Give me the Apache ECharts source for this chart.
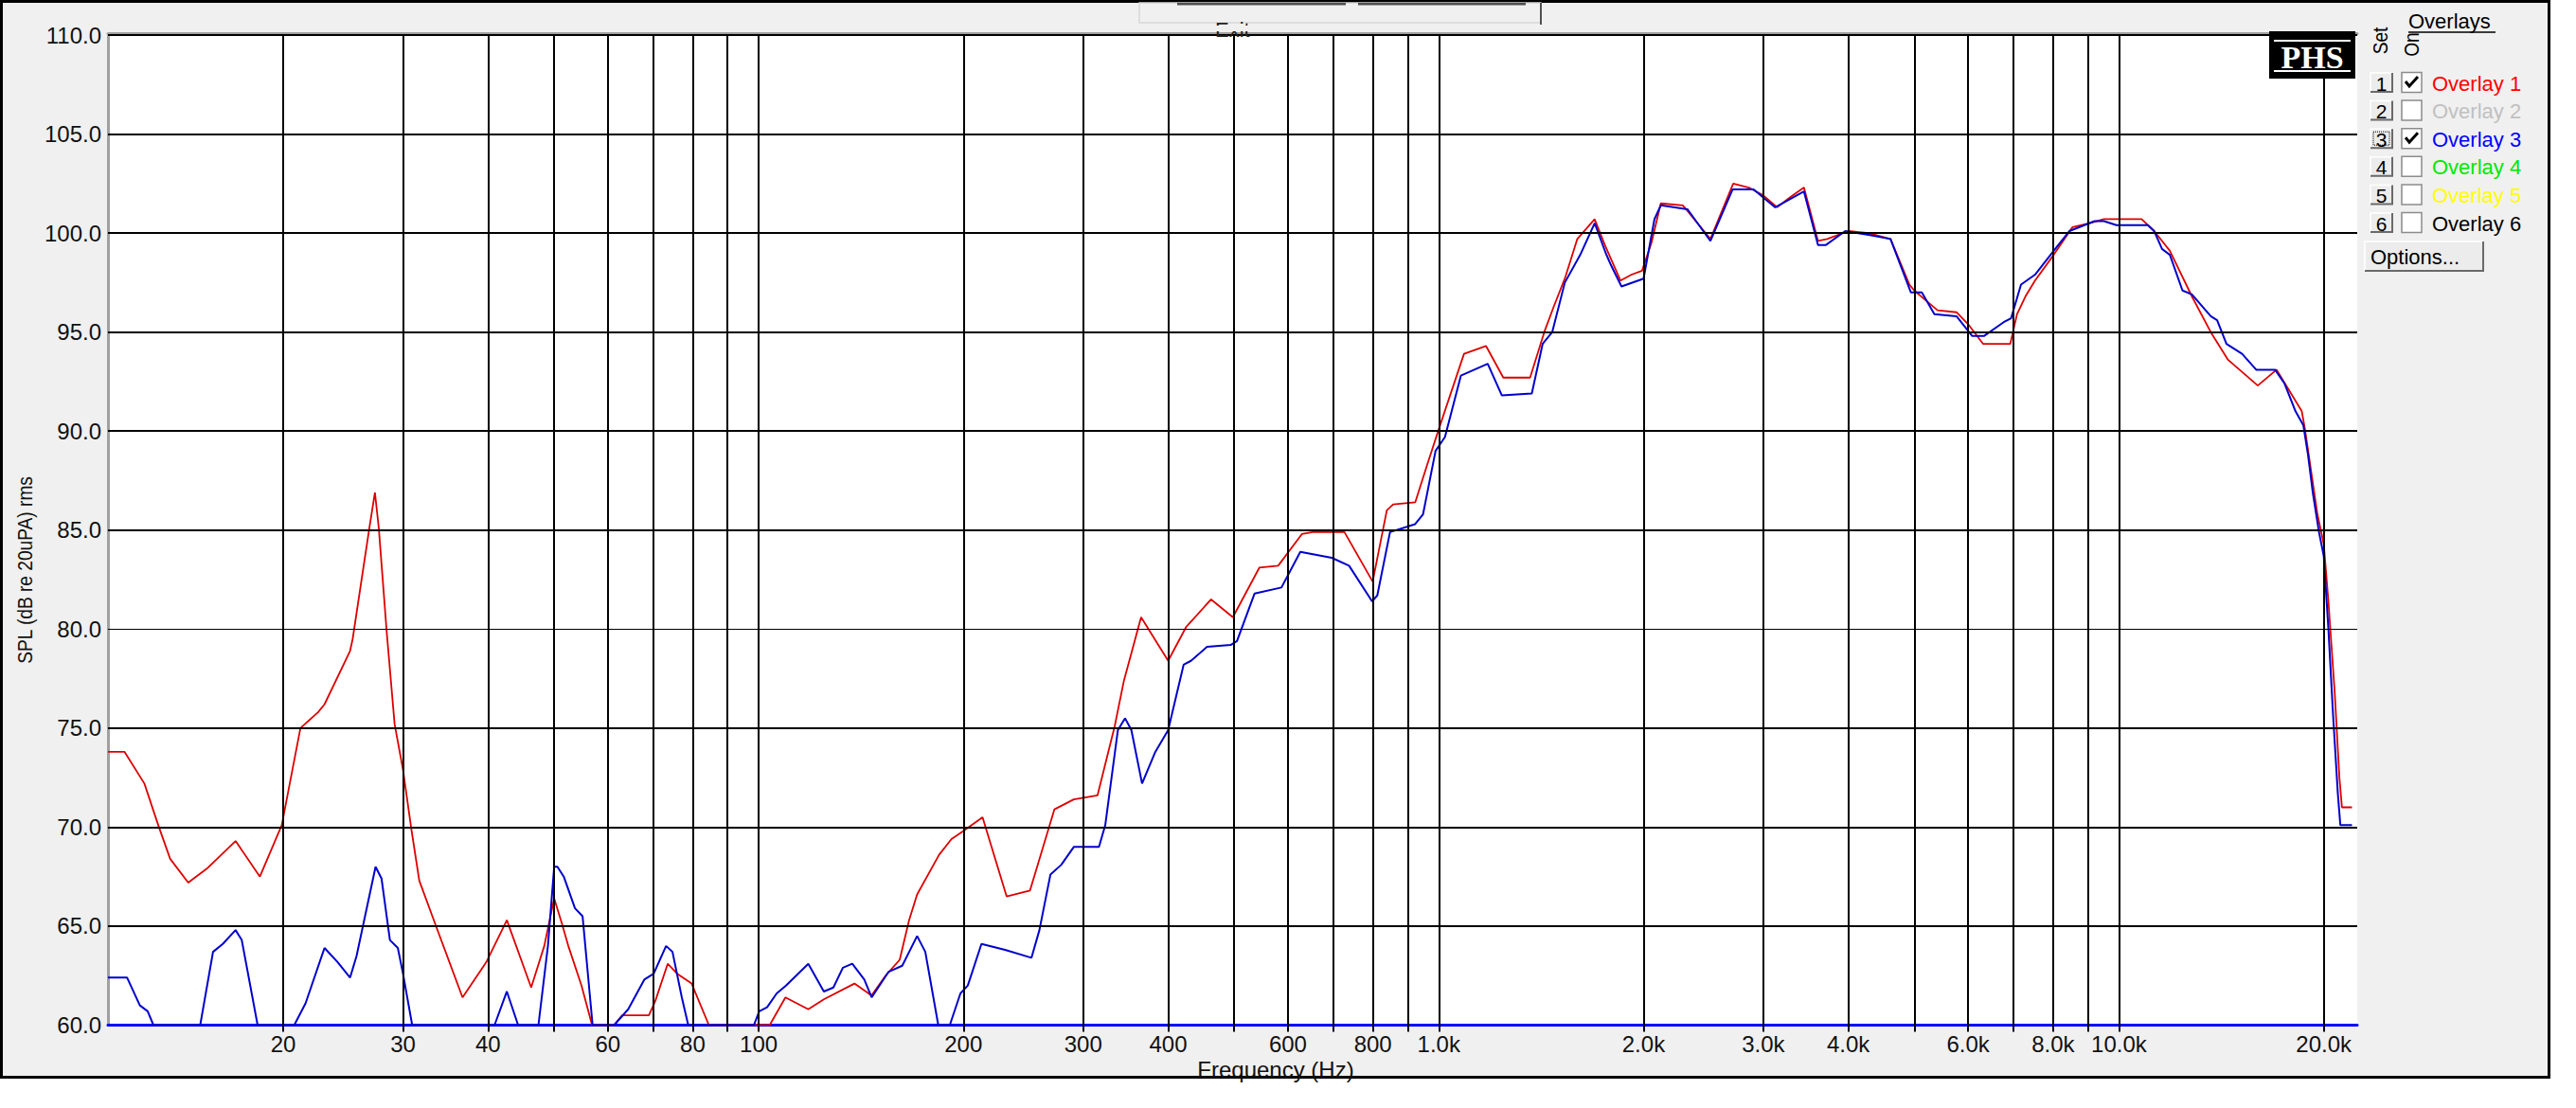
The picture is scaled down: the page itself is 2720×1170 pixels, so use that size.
<!DOCTYPE html>
<html>
<head>
<meta charset="utf-8">
<script src="https://cdn.jsdelivr.net/npm/echarts@6/dist/echarts.min.js"></script>
<style>
html,body{margin:0;padding:0;background:#ffffff;}
#chart{width:2720px;height:1170px;}
</style>
</head>
<body>
<div id="chart"></div>
<script>
// ---------------- DATA ----------------
// Overlay 1 (red): [frequency Hz, SPL dB]
const overlay1Points = [
  [11.05,73.8],[11.69,73.8],[12.5,72.2],[13.13,70.0],[13.64,68.4],[14.5,67.2],[15.44,67.9],[17.02,69.3],
  [18.48,67.5],[19.9,70.1],[21.2,75.0],[22.5,75.8],[23.0,76.2],[25.08,78.9],[25.3,79.5],[26.77,85.1],
  [27.28,86.9],[27.64,85.1],[28.4,79.8],[29.16,75.2],[30.0,72.9],[30.86,69.9],[31.7,67.3],[33.55,65.0],
  [36.7,61.4],[39.8,63.2],[42.64,65.3],[46.3,61.9],[48.4,64.0],[50.05,66.4],[51.4,65.1],[52.5,64.0],
  [54.9,62.0],[56.9,60],[61.3,60],[63.0,60.5],[68.96,60.5],[70.45,61.2],[73.5,63.1],[75.9,62.6],
  [79.7,62.1],[84.5,60],[98.6,60],[103.8,60],[109.5,61.4],[118.3,60.8],[124.7,61.3],[138.3,62.1],
  [146.6,61.5],[153.7,62.5],[161.2,63.3],[166.4,65.3],[171,66.6],[184.2,68.6],[192.1,69.4],[200,69.8],
  [213.4,70.5],[231.5,66.5],[250.6,66.8],[272.2,70.9],[290.6,71.4],[314.9,71.6],[333.8,75.1],[344.4,77.4],
  [365,80.6],[400,78.4],[425,80.1],[462.6,81.5],[498,80.6],[544.6,83.1],[580.5,83.2],[629,84.8],
  [652.8,84.9],[726.5,84.9],[799.4,82.4],[838.6,86.0],[856.8,86.3],[923.2,86.4],[963.4,88.4],[1000,90.1],
  [1043.5,92.0],[1089,93.9],[1173,94.3],[1244,92.7],[1362,92.7],[1429,95.0],[1476,96.3],[1532,97.7],
  [1598,99.7],[1695,100.7],[1759,99.3],[1850,97.6],[1920,97.9],[1990,98.1],[2054,99.5],[2120,101.5],
  [2284,101.4],[2508,99.7],[2709,102.5],[2856,102.3],[3000,101.9],[3144,101.3],[3281,101.8],[3442,102.3],
  [3610,99.6],[3724,99.7],[4000,100.1],[4282,100.0],[4614,99.7],[4918,97.4],[5000,97.1],[5410,96.1],
  [5769,96.0],[6000,95.4],[6315,94.4],[6920,94.4],[7080,95.9],[7285,96.8],[7526,97.6],[8016,98.9],
  [8545,100.3],[9060,100.5],[9503,100.7],[10796,100.7],[11265,100.1],[11880,99.1],[12799,96.8],[13643,95.0],
  [14464,93.6],[15996,92.3],[17050,93.1],[18568,91.0],[18767,90.1],[19576,85.8],[20000,84.3],[20317,81.4],
  [20756,76.8],[21089,72.5],[21270,71.0],[22007,71.0]
];
// Overlay 3 (blue): [frequency Hz, SPL dB]
const overlay3Points = [
  [11.05,62.4],[11.79,62.4],[12.31,61.0],[12.64,60.7],[12.89,60],[15.1,60],[15.77,63.7],[16.3,64.1],
  [17.02,64.8],[17.38,64.3],[18.34,60],[20.76,60],[21.57,61.1],[23.0,63.9],[24.02,63.2],[25.08,62.4],
  [25.64,63.5],[27.34,68.0],[27.9,67.4],[28.7,64.3],[29.48,63.9],[30.0,62.6],[30.95,60],[40.9,60],
  [42.64,61.7],[44.3,60],[47.45,60],[49.0,64.0],[50.05,68.0],[50.6,68.0],[51.7,67.5],[53.7,65.9],
  [55.1,65.5],[57.0,60],[61.3,60],[64.3,60.8],[67.9,62.3],[70.1,62.6],[73.1,64.0],[74.7,63.7],
  [77.1,61.4],[78.8,60],[98.4,60],[100.2,60.7],[102.9,60.9],[106.3,61.6],[109.7,62.0],[118.3,63.1],
  [124.7,61.7],[128.8,61.9],[133,62.9],[137.3,63.1],[143,62.3],[146.6,61.4],[155.3,62.7],[162.6,63.0],
  [171,64.5],[175.8,63.7],[183.7,60],[191,60],[198,61.6],[203,62.0],[212.6,64.1],[230.3,63.8],
  [251.8,63.4],[258.7,64.8],[268.5,67.6],[278.6,68.1],[290.6,69.0],[316.5,69.0],[323.3,70.1],[337.4,74.9],
  [345.7,75.5],[353.2,74.9],[366.2,72.2],[383,73.8],[400,74.9],[421.5,78.2],[432.2,78.4],[456.2,79.1],
  [494.2,79.2],[505,79.4],[536,81.8],[587,82.1],[625.7,83.9],[696,83.6],[738,83.2],[797.8,81.4],
  [812,81.7],[847.7,84.9],[923,85.3],[948,85.8],[989,89.0],[1021,89.7],[1077.5,92.8],[1180,93.4],
  [1238,91.8],[1370,91.9],[1421,94.4],[1468,95.0],[1532,97.5],[1614,98.9],[1695,100.5],[1759,99.0],
  [1790,98.4],[1856,97.3],[2000,97.7],[2075,100.7],[2120,101.4],[2321,101.2],[2508,99.6],[2703,102.2],
  [2902,102.2],[3123,101.3],[3442,102.1],[3610,99.4],[3708,99.4],[3958,100.1],[4305,99.9],[4614,99.7],
  [4944,97.0],[5130,97.0],[5353,95.9],[5769,95.8],[6085,94.8],[6330,94.8],[6767,95.5],[6940,95.7],
  [7177,97.4],[7526,97.9],[8016,99.1],[8453,100.1],[9205,100.6],[9503,100.6],[9915,100.4],[11027,100.4],
  [11265,100.1],[11568,99.2],[11880,98.9],[12397,97.1],[12799,96.9],[13643,95.8],[13940,95.6],[14388,94.4],
  [15170,93.9],[15911,93.1],[16960,93.1],[17515,92.4],[18178,91.0],[18664,90.3],[18963,88.8],[19271,86.9],
  [19680,84.9],[20000,83.7],[20317,80.0],[20646,75.6],[20977,71.7],[21156,70.1],[22007,70.1]
];
const gridFreqs = [20,30,40,50,60,70,80,90,100,200,300,400,500,600,700,800,900,1000,2000,3000,4000,5000,6000,7000,8000,9000,10000,20000];
const labelFreqs = [20,30,40,60,80,100,200,300,400,600,800,1000,2000,3000,4000,6000,8000,10000,20000];
const splGridValues = [65,70,75,80,85,90,95,100,105,110];
const overlayNames = ['Overlay 1','Overlay 2','Overlay 3','Overlay 4','Overlay 5','Overlay 6'];
const overlayColors = ['#ff0000','#c0c0c0','#0000ff','#00e800','#ffff00','#000000'];
const overlayOn = [true,false,true,false,false,false];
const setNumbers = ['1','2','3','4','5','6'];

// ---------------- CHART ----------------
const FONT = '"Liberation Sans", Arial, sans-serif';
const chart = echarts.init(document.getElementById('chart'), null, {renderer: 'svg'});

function fmtFreq(v) {
  const r = Math.round(v);
  return r >= 1000 ? (r / 1000).toFixed(1) + 'k' : String(r);
}

const gridLines = gridFreqs.map(f => ({xAxis: f, lineStyle: {color: '#000', width: 2, type: 'solid'}}))
  .concat(splGridValues.map(v => ({yAxis: v, lineStyle: {color: '#000', width: v === 80 ? 1 : 2, type: 'solid'}})));

const G = [];
// window frame
G.push({type: 'rect', z: -100, silent: true, shape: {x: 1.5, y: 1.5, width: 2690, height: 1136},
  style: {fill: '#f0f0f0', stroke: '#000', lineWidth: 3}});
// partial button at top
G.push({type: 'rect', z: 10, silent: true, shape: {x: 1203, y: 3, width: 424, height: 21},
  style: {fill: 'none', stroke: '#d6d6d6', lineWidth: 1.5}});
G.push({type: 'line', z: 10, silent: true, shape: {x1: 1627, y1: 3, x2: 1627, y2: 26}, style: {stroke: '#505050', lineWidth: 2}});
G.push({type: 'rect', z: 10, silent: true, shape: {x: 1243, y: 3, width: 178, height: 2.5}, style: {fill: '#505050'}});
G.push({type: 'rect', z: 10, silent: true, shape: {x: 1434, y: 3, width: 177, height: 2.5}, style: {fill: '#505050'}});
G.push({type: 'text', z: 10, silent: true, x: 1283, y: 20,
  style: {text: 'Exit', fill: '#222', font: '22px ' + FONT, textVerticalAlign: 'top'}});
G.push({type: 'rect', z: 11, silent: true, shape: {x: 1270, y: 27, width: 70, height: 6}, style: {fill: '#f0f0f0'}});
// PHS logo
G.push({type: 'rect', z: 20, silent: true, shape: {x: 2396, y: 33, width: 91, height: 50}, style: {fill: '#000'}});
G.push({type: 'line', z: 21, silent: true, shape: {x1: 2401, y1: 43, x2: 2482, y2: 43}, style: {stroke: '#fff', lineWidth: 2}});
G.push({type: 'line', z: 21, silent: true, shape: {x1: 2401, y1: 75, x2: 2482, y2: 75}, style: {stroke: '#fff', lineWidth: 2}});
G.push({type: 'text', z: 21, silent: true, x: 2441.5, y: 60,
  style: {text: 'PHS', fill: '#fff', font: 'bold 34px "Liberation Serif", "Times New Roman", serif', textAlign: 'center', textVerticalAlign: 'middle'}});
// Overlays panel
G.push({type: 'text', z: 10, silent: true, x: 2543, y: 33,
  style: {text: 'Overlays', fill: '#000', font: '22px ' + FONT, textVerticalAlign: 'bottom'}});
G.push({type: 'line', z: 10, silent: true, shape: {x1: 2543, y1: 34, x2: 2635, y2: 34}, style: {stroke: '#000', lineWidth: 1.5}});
G.push({type: 'text', z: 10, silent: true, x: 2513, y: 43, rotation: Math.PI / 2, scaleX: 0.87,
  style: {text: 'Set', fill: '#000', font: '22px ' + FONT, textAlign: 'center', textVerticalAlign: 'middle'}});
G.push({type: 'text', z: 10, silent: true, x: 2546, y: 47, rotation: Math.PI / 2, scaleX: 0.87,
  style: {text: 'On', fill: '#000', font: '22px ' + FONT, textAlign: 'center', textVerticalAlign: 'middle'}});
overlayNames.forEach((name, i) => {
  const cy = 87 + i * 29.6;
  const bx = 2503, by = cy - 10, bw = 23, bh = 20;
  G.push({type: 'rect', z: 10, silent: true, shape: {x: bx, y: by, width: bw, height: bh}, style: {fill: '#ececec'}});
  G.push({type: 'polyline', z: 11, silent: true, shape: {points: [[bx, by + bh], [bx, by], [bx + bw, by]]}, style: {stroke: '#ffffff', lineWidth: 1.5, fill: 'none'}});
  G.push({type: 'polyline', z: 11, silent: true, shape: {points: [[bx, by + bh], [bx + bw, by + bh], [bx + bw, by]]}, style: {stroke: '#6a6a6a', lineWidth: 2, fill: 'none'}});
  G.push({type: 'text', z: 12, silent: true, x: bx + bw / 2, y: cy + 1,
    style: {text: setNumbers[i], fill: '#000', font: '21px ' + FONT, textAlign: 'center', textVerticalAlign: 'middle'}});
  if (i === 2) {
    G.push({type: 'rect', z: 12, silent: true, shape: {x: bx + 3, y: by + 3, width: bw - 6, height: bh - 6}, style: {fill: 'none', stroke: '#000', lineWidth: 1, lineDash: [1, 1]}});
  }
  G.push({type: 'rect', z: 10, silent: true, shape: {x: 2536, y: cy - 10.5, width: 21, height: 21}, style: {fill: '#ffffff', stroke: '#8c8c8c', lineWidth: 1.5}});
  if (overlayOn[i]) {
    G.push({type: 'polyline', z: 11, silent: true, shape: {points: [[2540, cy - 1], [2544, cy + 4], [2553, cy - 6]]}, style: {stroke: '#000', lineWidth: 3, fill: 'none'}});
  }
  G.push({type: 'text', z: 10, silent: true, x: 2568, y: cy + 1,
    style: {text: name, fill: overlayColors[i], font: '22px ' + FONT, textVerticalAlign: 'middle'}});
});
// Options button
G.push({type: 'rect', z: 10, silent: true, shape: {x: 2497, y: 255, width: 125, height: 31}, style: {fill: '#ececec'}});
G.push({type: 'polyline', z: 11, silent: true, shape: {points: [[2497, 286], [2497, 255], [2622, 255]]}, style: {stroke: '#ffffff', lineWidth: 1.5, fill: 'none'}});
G.push({type: 'polyline', z: 11, silent: true, shape: {points: [[2497, 286], [2622, 286], [2622, 255]]}, style: {stroke: '#6a6a6a', lineWidth: 2, fill: 'none'}});
G.push({type: 'text', z: 12, silent: true, x: 2503, y: 271,
  style: {text: 'Options...', fill: '#000', font: '22px ' + FONT, textVerticalAlign: 'middle'}});
// axis titles
G.push({type: 'text', z: 10, silent: true, x: 1347, y: 1129,
  style: {text: 'Frequency (Hz)', fill: '#111', font: '24px ' + FONT, textAlign: 'center', textVerticalAlign: 'middle'}});
G.push({type: 'text', z: 10, silent: true, x: 26, y: 602, rotation: Math.PI / 2, scaleX: 0.87,
  style: {text: 'SPL (dB re 20uPA) rms', fill: '#111', font: '22px ' + FONT, textAlign: 'center', textVerticalAlign: 'middle'}});

const option = {
  animation: false,
  backgroundColor: '#ffffff',
  grid: {left: 114, top: 37, width: 2375, bottom: 87.5, show: true, backgroundColor: '#ffffff', borderWidth: 0, containLabel: false},
  xAxis: [{
    type: 'log', logBase: 10, min: 11.05, max: 22400, position: 'bottom',
    axisLine: {show: true, onZero: false, lineStyle: {color: '#0000ff', width: 3}},
    axisTick: {show: true, customValues: gridFreqs, length: 7, inside: false, lineStyle: {color: '#000', width: 2}},
    axisLabel: {show: true, customValues: labelFreqs, formatter: fmtFreq, fontSize: 24, fontFamily: FONT, color: '#111', margin: 8},
    splitLine: {show: false}, minorTick: {show: false}, minorSplitLine: {show: false}
  }, {
    type: 'log', logBase: 10, min: 11.05, max: 22400, position: 'top', offset: 2,
    axisLine: {show: true, onZero: false, lineStyle: {color: '#a0a0a0', width: 3}},
    axisTick: {show: false}, axisLabel: {show: false}, splitLine: {show: false}
  }],
  yAxis: {
    type: 'value', min: 60, max: 110, interval: 5,
    axisLine: {show: true, lineStyle: {color: '#a0a0a0', width: 3}},
    axisTick: {show: false},
    axisLabel: {formatter: v => v.toFixed(1), fontSize: 24, fontFamily: FONT, color: '#111', margin: 7},
    splitLine: {show: false}
  },
  graphic: G,
  series: [{
    type: 'line', name: 'grid', data: [[1000, 60]], symbol: 'none', silent: true, z: 1,
    lineStyle: {opacity: 0},
    markLine: {silent: true, symbol: ['none', 'none'], label: {show: false}, animation: false, data: gridLines}
  }, {
    type: 'line', name: overlayNames[0], data: overlay1Points, symbol: 'none', showSymbol: false, z: 3,
    lineStyle: {color: '#dd0000', width: 1.8}
  }, {
    type: 'line', name: overlayNames[2], data: overlay3Points, symbol: 'none', showSymbol: false, z: 4,
    lineStyle: {color: '#0000cc', width: 2}
  }]
};
chart.setOption(option);
</script>
</body>
</html>
